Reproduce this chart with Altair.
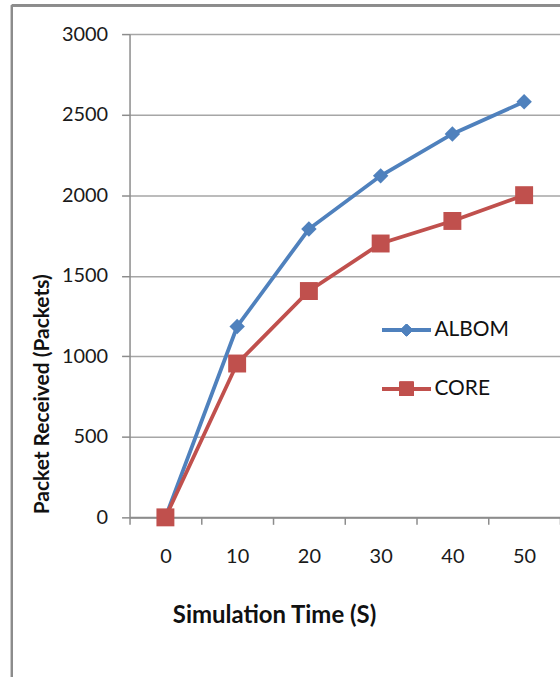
import altair as alt
import pandas as pd

times = [0, 10, 20, 30, 40, 50]
albom = [0, 1185, 1790, 2120, 2380, 2580]
core = [0, 955, 1405, 1700, 1840, 2000]
series_names = ["ALBOM", "CORE"]
colors = ["#4F81BD", "#C0504D"]

rows = []
for t, a, c in zip(times, albom, core):
    rows.append({"t": t, "v": a, "s": "ALBOM"})
    rows.append({"t": t, "v": c, "s": "CORE"})
df = pd.DataFrame(rows)

FONT = "Lato"
W, H = 432, 485

xenc = alt.X("t:O", bandPosition=0.5,
             scale=alt.Scale(type="band", paddingInner=0, paddingOuter=0),
             axis=alt.Axis(title="Simulation Time (S)", labelAngle=0, tickBand="extent",
                           grid=False, domainColor="#8c8c8c", tickColor="#8c8c8c",
                           domainWidth=2, tickWidth=1.5, tickSize=7, labelPadding=22,
                           labelFontSize=20, labelFont=FONT, labelColor="#1a1a1a",
                           titleFontSize=24, titleFont=FONT, titleFontWeight="bold",
                           titleColor="#111", titleX=145, titleY=99,
                           titleBaseline="middle", titleAnchor="middle"))
yenc = alt.Y("v:Q", scale=alt.Scale(domain=[0, 3000], nice=False),
             axis=alt.Axis(title="Packet Received (Packets)", values=[0, 500, 1000, 1500, 2000, 2500, 3000],
                           format="d",
                           grid=True, gridColor="#a6a6a6", gridWidth=1.5,
                           domainColor="#8c8c8c", tickColor="#8c8c8c", domainWidth=1.5,
                           tickSize=8, tickWidth=1.5, labelPadding=14,
                           labelFontSize=20, labelFont=FONT, labelColor="#1a1a1a",
                           titleFontSize=21, titleFont=FONT, titleFontWeight="bold",
                           titleColor="#111", titleAngle=-90, titleX=-87, titleY=361,
                           titleBaseline="middle", titleAnchor="middle"))
cscale = alt.Scale(domain=series_names, range=colors)

base = alt.Chart(df)
lines = base.mark_line(strokeWidth=3.8).encode(
    x=xenc, y=yenc, color=alt.Color("s:N", scale=cscale, legend=None))
pts_a = base.transform_filter(alt.datum.s == "ALBOM").mark_point(
    shape="diamond", filled=True, size=240, opacity=1).encode(
    x=xenc, y=yenc, color=alt.Color("s:N", scale=cscale, legend=None))
pts_c = base.transform_filter(alt.datum.s == "CORE").mark_point(
    shape="square", filled=True, size=324, opacity=1).encode(
    x=xenc, y=yenc, color=alt.Color("s:N", scale=cscale, legend=None))

# manual legend
leg = []
for i, (name, col, shp, sz) in enumerate(zip(series_names, colors, ["diamond", "square"], [150, 196])):
    yy = 297 + i * 59
    leg.append(alt.Chart(df).mark_rule(color=col, strokeWidth=3.8).encode(
        x=alt.value(254), x2=alt.value(302), y=alt.value(yy)))
    leg.append(alt.Chart(df).mark_point(shape=shp, filled=True, size=sz, color=col, opacity=1).encode(
        x=alt.value(278), y=alt.value(yy)))
    leg.append(alt.Chart(pd.DataFrame({"s": [name]})).mark_text(
        align="left", baseline="middle", fontSize=21, font=FONT, color="#111").encode(
        x=alt.value(306), y=alt.value(yy), text="s:N"))

# outer frame
frame_left = alt.Chart(df).mark_rule(color="#8c8c8c", strokeWidth=2).encode(
    x=alt.value(-118), y=alt.value(-29), y2=alt.value(700))
frame_top = alt.Chart(df).mark_rule(color="#8c8c8c", strokeWidth=2).encode(
    x=alt.value(-118), x2=alt.value(500), y=alt.value(-29))

chart = alt.layer(frame_left, frame_top, lines, pts_a, pts_c, *leg).properties(
    width=W, height=H,
    padding={"left": 130, "top": 33, "right": 0, "bottom": 159},
    autosize=alt.AutoSizeParams(type="none"),
    background="white",
).configure_view(stroke=None)

chart.save("out.html", embed_options={"renderer": "svg", "actions": False})
